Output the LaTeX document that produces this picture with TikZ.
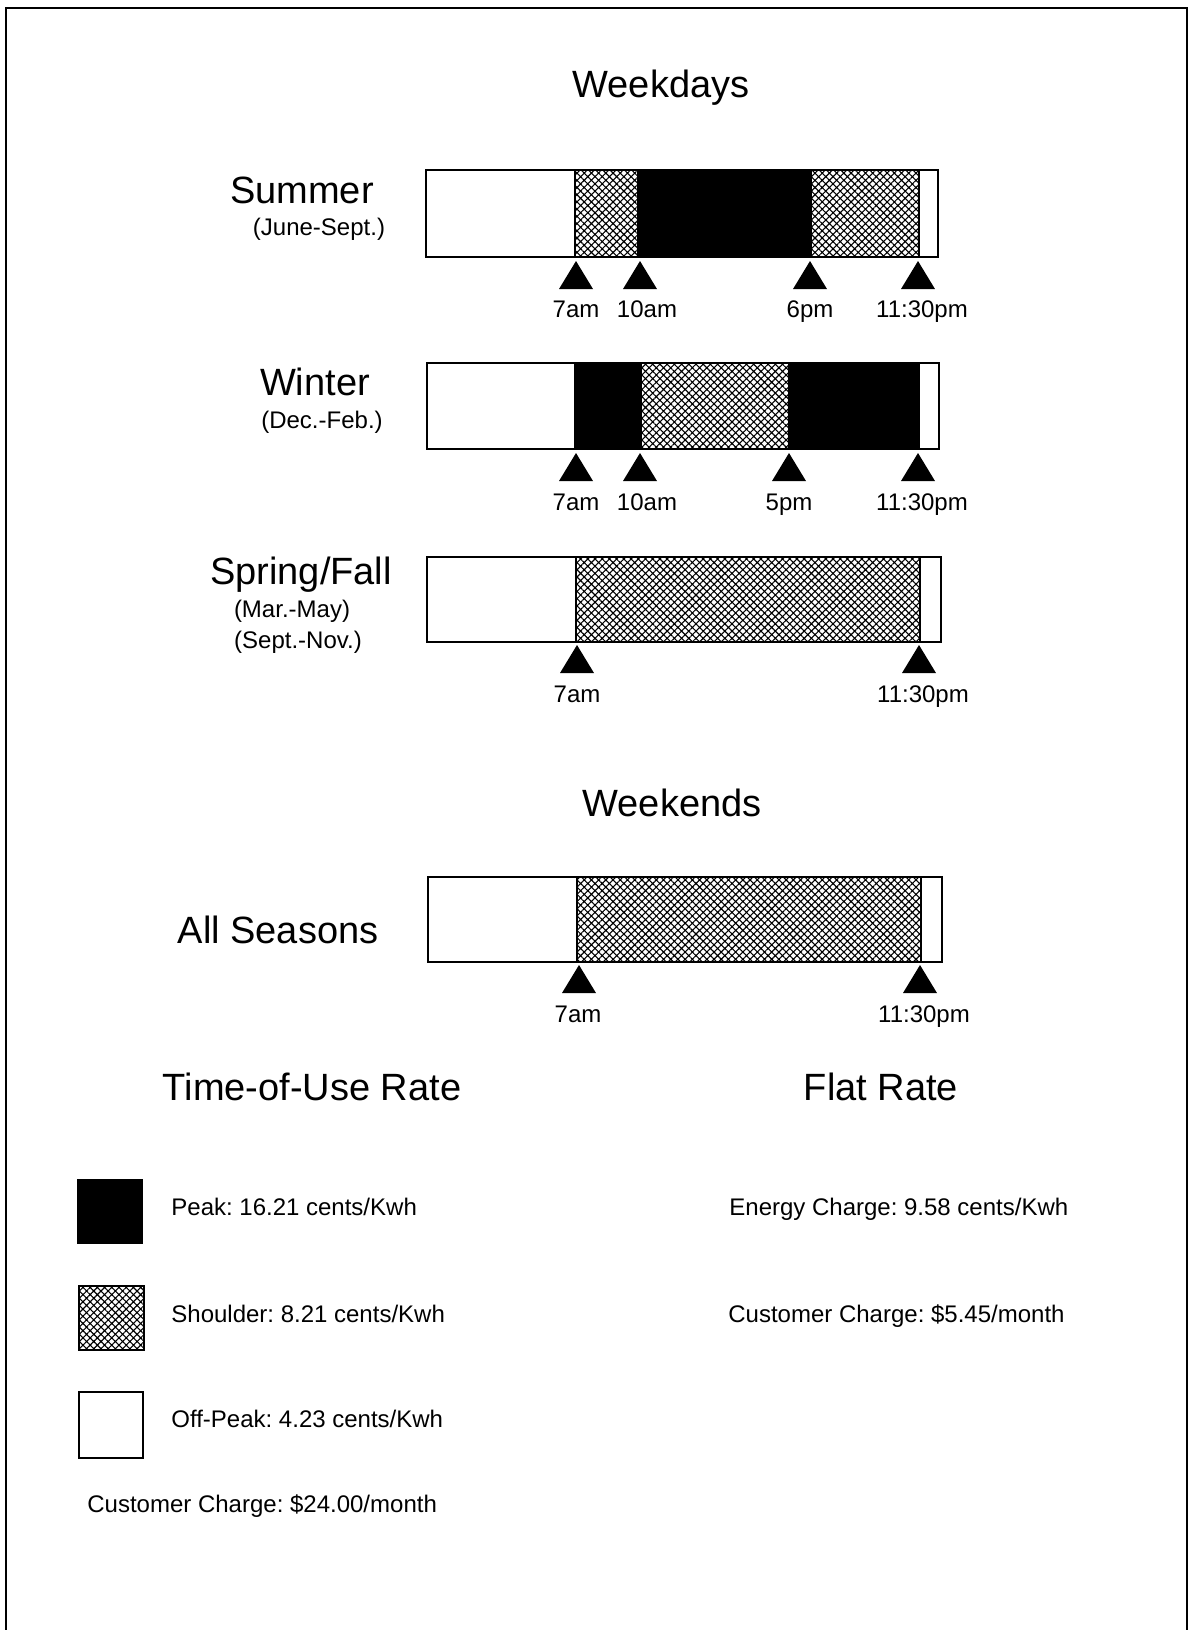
\documentclass[tikz,border=0pt]{standalone}
\usepackage{fontspec}
\setmainfont{Liberation Sans}
\usetikzlibrary{patterns.meta}
\frenchspacing
\tikzset{
  bigtext/.style={font=\fontsize{19}{23}\selectfont, inner sep=0pt, anchor=base},
  smalltext/.style={font=\fontsize{12}{14}\selectfont, inner sep=0pt, anchor=base},
  lefttext/.style={smalltext, anchor=base west},
  pageframe/.style={line width=1pt},
  barframe/.style={line width=1.2pt},
  divider/.style={line width=1.3pt},
  peakfill/.style={fill=black},
  shoulderfill/.style={pattern={Hatch[angle=45,distance=2.55pt,line width=0.55pt]}},
  timemark/.pic={\fill (-17,28) -- (0,0) -- (17,28) -- cycle;},
}
\begin{document}
\begin{tikzpicture}[x=0.5pt,y=-0.5pt]
\useasboundingbox (0,0) rectangle (1192,1630);
\draw[pageframe] (6,1630) -- (6,8) -- (1187,8) -- (1187,1630);

\node[bigtext] (weekdays) at (661,97) {Weekdays};

% ---------- Summer ----------
\node[bigtext] (summer) at (302,203) {Summer};
\node[smalltext] (summerm) at (319,235) {(June-Sept.)};
\fill[shoulderfill] (575,170) rectangle (638,257);
\fill[peakfill] (638,170) rectangle (811,257);
\fill[shoulderfill] (811,170) rectangle (919,257);
\draw[divider] (575,170)--(575,257) (638,170)--(638,257) (811,170)--(811,257) (919,170)--(919,257);
\draw[barframe] (426,170) rectangle (938,257);
\pic at (576,261) {timemark};
\pic at (640,261) {timemark};
\pic at (810,261) {timemark};
\pic at (918,261) {timemark};
\node[smalltext] (s1) at (576,317) {7am};
\node[smalltext] (s2) at (647,317) {10am};
\node[smalltext] (s3) at (810,317) {6pm};
\node[smalltext] (s4) at (922,317) {11:30pm};

% ---------- Winter ----------
\node[bigtext] (winter) at (315,395) {Winter};
\node[smalltext] (winterm) at (322,428) {(Dec.-Feb.)};
\fill[peakfill] (575,363) rectangle (641,449);
\fill[shoulderfill] (641,363) rectangle (789,449);
\fill[peakfill] (789,363) rectangle (919,449);
\draw[divider] (575,363)--(575,449) (641,363)--(641,449) (789,363)--(789,449) (919,363)--(919,449);
\draw[barframe] (427,363) rectangle (939,449);
\pic at (576,453) {timemark};
\pic at (640,453) {timemark};
\pic at (789,453) {timemark};
\pic at (918,453) {timemark};
\node[smalltext] (w1) at (576,510) {7am};
\node[smalltext] (w2) at (647,510) {10am};
\node[smalltext] (w3) at (789,510) {5pm};
\node[smalltext] (w4) at (922,510) {11:30pm};

% ---------- Spring/Fall ----------
\node[bigtext] (spring) at (301,584) {Spring/Fall};
\node[smalltext] (springm1) at (292,617) {(Mar.-May)};
\node[smalltext] (springm2) at (298,648) {(Sept.-Nov.)};
\fill[shoulderfill] (576,557) rectangle (920,642);
\draw[divider] (576,557)--(576,642) (920,557)--(920,642);
\draw[barframe] (427,557) rectangle (941,642);
\pic at (577,645) {timemark};
\pic at (919,645) {timemark};
\node[smalltext] (p1) at (577,702) {7am};
\node[smalltext] (p2) at (923,702) {11:30pm};

% ---------- Weekends ----------
\node[bigtext] (weekends) at (672,816) {Weekends};
\node[bigtext] (allseasons) at (278,943) {All Seasons};
\fill[shoulderfill] (577,877) rectangle (921,962);
\draw[divider] (577,877)--(577,962) (921,877)--(921,962);
\draw[barframe] (428,877) rectangle (942,962);
\pic at (579,965) {timemark};
\pic at (920,965) {timemark};
\node[smalltext] (a1) at (578,1022) {7am};
\node[smalltext] (a2) at (924,1022) {11:30pm};

% ---------- Rates ----------
\node[bigtext] (tou) at (312,1100) {Time-of-Use Rate};
\node[bigtext] (flat) at (881,1100) {Flat Rate};

\fill[peakfill] (77,1179) rectangle (143,1244);
\fill[shoulderfill] (79,1286) rectangle (144,1350);
\draw[barframe] (79,1286) rectangle (144,1350);
\draw[barframe] (79,1392) rectangle (143,1458);

\node[lefttext] (peak) at (171,1215) {Peak: 16.21 cents/Kwh};
\node[lefttext] (shoulder) at (171,1322) {Shoulder: 8.21 cents/Kwh};
\node[lefttext] (offpeak) at (171,1427) {Off-Peak: 4.23 cents/Kwh};
\node[lefttext] (cust1) at (87,1512) {Customer Charge: \$24.00/month};

\node[lefttext] (energy) at (729,1215) {Energy Charge: 9.58 cents/Kwh};
\node[lefttext] (cust2) at (728,1322) {Customer Charge: \$5.45/month};
\end{tikzpicture}
\end{document}
